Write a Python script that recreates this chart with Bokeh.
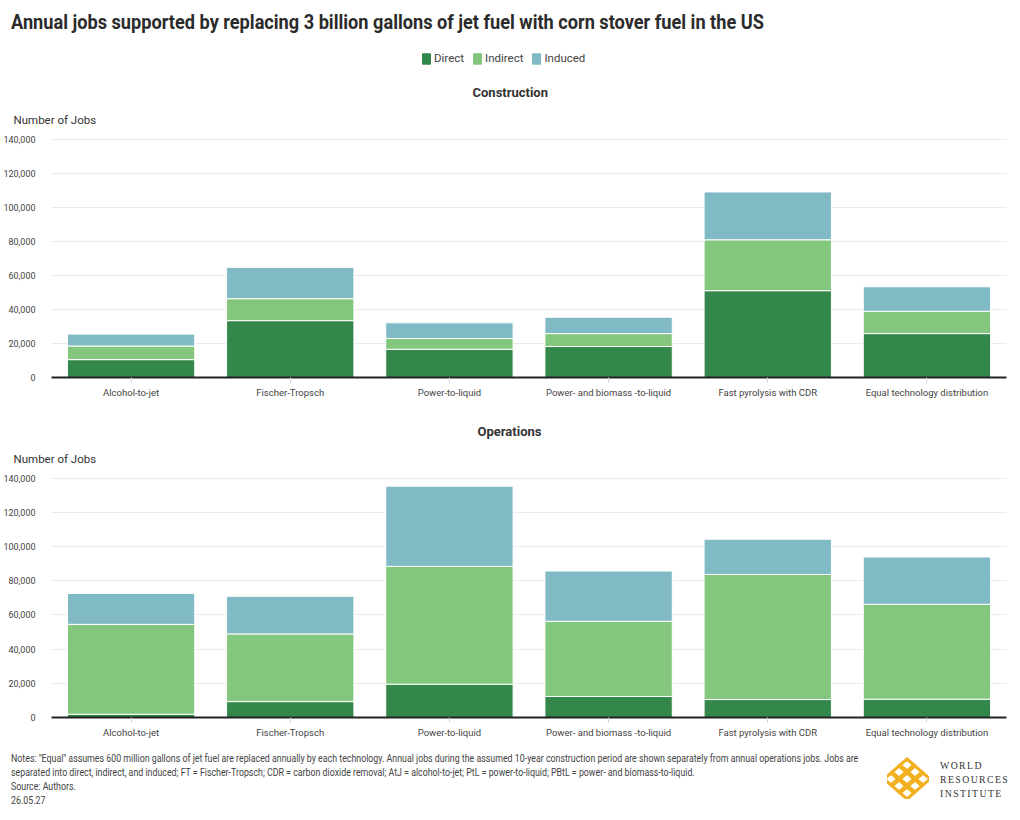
from bokeh.plotting import figure
from bokeh.models import (ColumnDataSource, FactorRange, Range1d, Legend, LegendItem,
                          Title, NumeralTickFormatter, Div, FixedTicker)
from bokeh.layouts import column
from bokeh.embed import file_html
from bokeh.resources import INLINE

# ---------------- data ----------------
technologies = ["Alcohol-to-jet", "Fischer-Tropsch", "Power-to-liquid",
                "Power- and biomass -to-liquid", "Fast pyrolysis with CDR",
                "Equal technology distribution"]
series = ["Direct", "Indirect", "Induced"]
colors = ["#33874A", "#82C77D", "#7FBAC5"]

construction_direct = [10500, 33400, 16600, 18200, 51000, 25800]
construction_indirect = [8000, 12900, 6300, 7600, 29900, 13100]
construction_induced = [7000, 18400, 9200, 9600, 28100, 14400]

operations_direct = [1900, 9300, 19500, 12300, 10500, 10700]
operations_indirect = [52600, 39600, 68900, 44000, 73200, 55500]
operations_induced = [18100, 22000, 46900, 29400, 20600, 27700]

y_ticks = [0, 20000, 40000, 60000, 80000, 100000, 120000, 140000]

FONT = "Roboto"
TXT = "#333333"


def make_source(direct, indirect, induced):
    return ColumnDataSource(dict(tech=technologies, Direct=direct,
                                 Indirect=indirect, Induced=induced))


def make_panel(panel_title, title_offset, src, height, top):
    p = figure(x_range=FactorRange(*technologies), y_range=Range1d(0, 140400),
               width=1020, height=height, output_backend="svg",
               toolbar_location=None, min_border_left=49, min_border_right=14,
               min_border_top=top, min_border_bottom=28)
    rs = p.vbar_stack(series, x="tech", width=0.8, color=colors,
                      line_color="white", line_width=1, source=src)
    p.outline_line_color = None
    p.xgrid.grid_line_color = None
    p.ygrid.grid_line_color = "#ebebeb"
    p.yaxis.ticker = FixedTicker(ticks=y_ticks)
    p.yaxis.formatter = NumeralTickFormatter(format="0,0")
    p.yaxis.axis_line_color = None
    p.yaxis.major_tick_line_color = None
    p.yaxis.minor_tick_line_color = None
    p.yaxis.major_label_standoff = 10
    p.yaxis.major_label_text_font = FONT
    p.yaxis.major_label_text_font_size = "9px"
    p.yaxis.major_label_text_color = "#444444"
    p.xaxis.axis_line_color = "#222222"
    p.xaxis.axis_line_width = 2
    p.xaxis.major_tick_line_color = "#d0d0d0"
    p.xaxis.major_tick_in = 0
    p.xaxis.major_tick_out = 5
    p.xaxis.major_label_standoff = 4
    p.xaxis.major_label_text_font = FONT
    p.xaxis.major_label_text_font_size = "9.5px"
    p.xaxis.major_label_text_color = "#444444"

    p.add_layout(Title(text="Number of Jobs", align="left", offset=-38,
                       text_font=FONT, text_font_size="11.5px",
                       text_font_style="normal", text_color=TXT, standoff=24), "above")
    p.add_layout(Title(text=panel_title, align="left", offset=title_offset,
                       text_font=FONT, text_font_size="13px",
                       text_font_style="bold", text_color=TXT, standoff=-3), "above")
    return p, rs


title_div = Div(
    text=('<div style="font-family:Roboto; font-size:21px; font-weight:bold; color:#2b2b2b;'
          ' position:absolute; left:11px; top:7px; white-space:nowrap;'
          ' transform:scaleX(0.865); transform-origin:left top;">Annual jobs supported by replacing '
          '3 billion gallons of jet fuel with corn stover fuel in the US</div>'),
    width=1020, height=40, margin=0)

src_construction = make_source(construction_direct, construction_indirect, construction_induced)
src_operations = make_source(operations_direct, operations_indirect, operations_induced)

# legend strip: same stacked series, with a value range that keeps the bars out of view
leg = figure(width=1020, height=30, x_range=FactorRange(*technologies),
             y_range=Range1d(1e9, 2e9), x_axis_type=None, y_axis_type=None,
             output_backend="svg", toolbar_location=None, min_border=0)
leg.grid.grid_line_color = None
leg.outline_line_color = None
leg_rs = leg.vbar_stack(series, x="tech", width=0.8, color=colors,
                        line_color=colors, source=src_construction)
legend = Legend(items=[LegendItem(label=s, renderers=[r]) for s, r in zip(series, leg_rs)],
                orientation="horizontal", location=(370, 5),
                glyph_width=10, glyph_height=13, label_height=13, label_standoff=3,
                spacing=8, padding=0, margin=0,
                label_text_font=FONT, label_text_font_size="11.5px",
                label_text_color="#444444", border_line_color=None,
                background_fill_alpha=0)
leg.add_layout(legend)

p1, _ = make_panel("Construction", 421, src_construction, 335, 68)
p2, _ = make_panel("Operations", 426, src_operations, 340, 72)

# logo (decorative)
diamonds = []
for a in range(3):
    for b in range(3):
        cx = 20 + (a - b) * 8
        cy = 6 + (a + b) * 7
        diamonds.append('<polygon points="%d,%d %d,%d %d,%d %d,%d" fill="none" '
                        'stroke="#F2B01E" stroke-width="3"/>' %
                        (cx, cy - 6, cx + 7, cy, cx, cy + 6, cx - 7, cy))
logo_svg = ('<svg width="42" height="42" viewBox="0 -2 42 42">%s</svg>' % "".join(diamonds))

notes_html = (
    '<div style="position:relative; width:1020px; height:75px;">'
    '<div style="position:absolute; left:11px; top:7px; font-family:Roboto; font-size:10.5px;'
    ' line-height:14px; color:#444; white-space:nowrap; transform:scaleX(0.84);'
    ' transform-origin:left top;">'
    'Notes: "Equal" assumes 600 million gallons of jet fuel are replaced annually by each technology. '
    'Annual jobs during the assumed 10-year construction period are shown separately from annual '
    'operations jobs. Jobs are<br>separated into direct, indirect, and induced; FT = Fischer-Tropsch; '
    'CDR = carbon dioxide removal; AtJ = alcohol-to-jet; PtL = power-to-liquid; PBtL = power- and '
    'biomass-to-liquid.<br>Source: Authors.<br>26.05.27</div>'
    '<div style="position:absolute; left:887px; top:12px;">%s</div>'
    '<div style="position:absolute; left:940px; top:14px; font-family:\'Liberation Serif\';'
    ' font-size:9.8px; letter-spacing:1.4px; line-height:14px; color:#333;">'
    'WORLD<br>RESOURCES<br>INSTITUTE</div>'
    '</div>') % logo_svg
notes_div = Div(text=notes_html, width=1020, height=75, margin=0)

layout = column(title_div, leg, p1, p2, notes_div, spacing=0)

with open("out.html", "w") as f:
    f.write(file_html(layout, INLINE))
